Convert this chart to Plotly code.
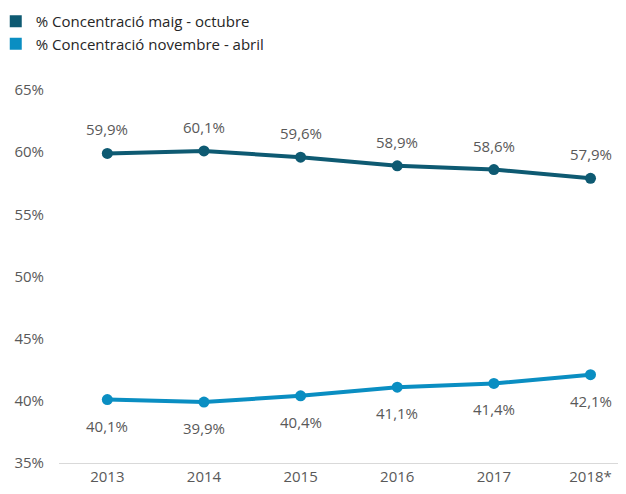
import plotly.graph_objects as go

years = ["2013", "2014", "2015", "2016", "2017", "2018*"]
maig_octubre = [59.9, 60.1, 59.6, 58.9, 58.6, 57.9]
novembre_abril = [40.1, 39.9, 40.4, 41.1, 41.4, 42.1]
y_ticks = [35, 40, 45, 50, 55, 60, 65]
names = ["% Concentració maig - octubre", "% Concentració novembre - abril"]
colors = ["#0E5A72", "#0A8EC2"]

FONT = "Open Sans, DejaVu Sans, sans-serif"
GREY = "#595959"

def fmt(v):
    return f"{v:.1f}".replace(".", ",") + "%"

fig = go.Figure()
for vals, name, col in [(maig_octubre, names[0], colors[0]), (novembre_abril, names[1], colors[1])]:
    fig.add_trace(go.Scatter(
        x=years, y=vals, mode="lines+markers", name=name, showlegend=False,
        line=dict(color=col, width=4), marker=dict(color=col, size=11),
        hoverinfo="skip"))
# legend squares
for name, col in zip(names, colors):
    fig.add_trace(go.Scatter(
        x=[None], y=[None], mode="markers", name=name,
        marker=dict(color=col, size=14, symbol="square")))

annotations = []
for i, v in enumerate(maig_octubre):
    annotations.append(dict(x=i, y=v, xref="x", yref="y", text=fmt(v), showarrow=False, yshift=24,
                            font=dict(family=FONT, size=15, color=GREY)))
for i, v in enumerate(novembre_abril):
    annotations.append(dict(x=i, y=v, xref="x", yref="y", text=fmt(v), showarrow=False, yshift=-26,
                            font=dict(family=FONT, size=15, color=GREY)))

fig.update_layout(
    width=626, height=494,
    margin=dict(l=51, r=0, t=82, b=39, autoexpand=False),
    plot_bgcolor="white", paper_bgcolor="white",
    font=dict(family=FONT, size=15, color=GREY),
    annotations=annotations,
    legend=dict(x=-0.11, y=1.228, xanchor="left", yanchor="top",
                font=dict(family=FONT, size=15, color="#262626"),
                tracegroupgap=0, itemsizing="constant", itemwidth=30,
                bgcolor="rgba(0,0,0,0)"),
    xaxis=dict(type="category", range=[-0.5, 5.45], showgrid=False, automargin=False,
               showline=True, linecolor="#D9D9D9", linewidth=1, ticks="",
               tickfont=dict(family=FONT, size=15, color=GREY), fixedrange=True),
    yaxis=dict(range=[35, 65], tickvals=y_ticks, automargin=False,
               ticktext=[f"{t}%" for t in y_ticks], showgrid=False, zeroline=False,
               showline=False, ticks="", ticklabelstandoff=14,
               tickfont=dict(family=FONT, size=15, color=GREY), fixedrange=True),
)

fig.write_html("out.html")
